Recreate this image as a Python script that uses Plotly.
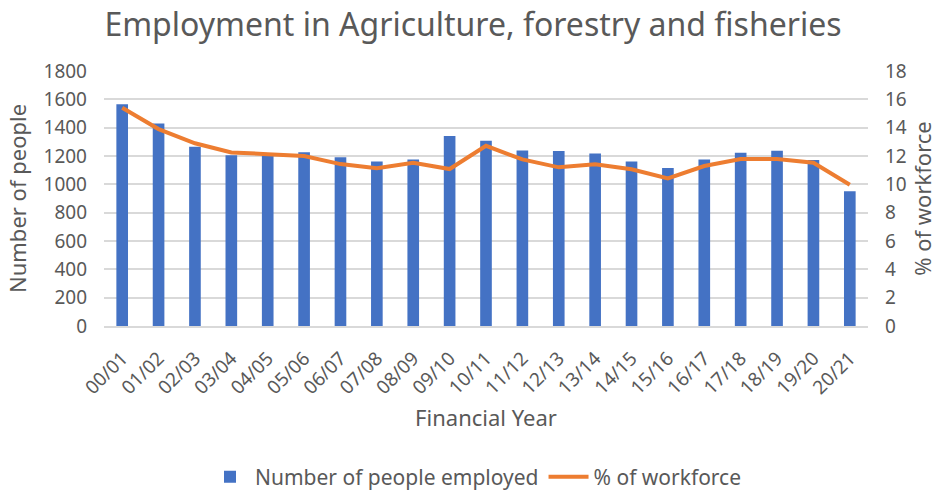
import plotly.graph_objects as go

years = ["00/01", "01/02", "02/03", "03/04", "04/05", "05/06", "06/07", "07/08",
         "08/09", "09/10", "10/11", "11/12", "12/13", "13/14", "14/15", "15/16",
         "16/17", "17/18", "18/19", "19/20", "20/21"]
employed = [1565, 1430, 1265, 1206, 1204, 1227, 1192, 1162, 1176, 1342, 1307,
            1239, 1235, 1218, 1162, 1115, 1176, 1223, 1237, 1171, 951]
pct_workforce = [15.4, 13.9, 12.9, 12.25, 12.13, 12.0, 11.43, 11.14, 11.52, 11.08,
                 12.72, 11.76, 11.2, 11.41, 11.06, 10.42, 11.29, 11.78, 11.78, 11.52, 9.97]

GREY = "#595959"
FONT = "Noto Sans"
TICK = dict(size=19, color=GREY, family=FONT)
AXTITLE = dict(size=22, color=GREY, family=FONT)

fig = go.Figure()
fig.add_trace(go.Bar(
    x=years, y=employed, name="Number of people employed",
    marker=dict(color="#4472C4", line=dict(width=0)),
))
fig.add_trace(go.Scatter(
    x=years, y=pct_workforce, name="% of workforce", yaxis="y2",
    mode="lines", line=dict(color="#ED7D31", width=4),
))

fig.update_layout(
    width=938, height=491,
    margin=dict(l=104, r=70, t=71, b=165),
    paper_bgcolor="white", plot_bgcolor="white",
    font=dict(family=FONT, color=GREY, size=17),
    bargap=0.68,
    title=dict(text="Employment in Agriculture, forestry and fisheries",
               x=473 / 938, xanchor="center", xref="container",
               y=1 - 25 / 491, yanchor="middle", yref="container",
               font=dict(size=32, color=GREY, family=FONT)),
    xaxis=dict(
        tickangle=-45, showgrid=False, showline=True, linecolor="#d9d9d9",
        linewidth=1.5, ticks="", tickfont=TICK, ticklabelstandoff=12,
        automargin=False,
        title=dict(text="Financial Year", font=AXTITLE, standoff=12),
    ),
    yaxis=dict(
        range=[0, 1800], dtick=200, showgrid=True, gridcolor="#d9d9d9", gridwidth=1.5,
        zeroline=False, ticks="", tickfont=TICK, ticklabelstandoff=16,
        automargin=False,
        title=dict(text="Number of people", font=AXTITLE, standoff=10),
    ),
    yaxis2=dict(
        range=[0, 18], dtick=2, overlaying="y", side="right", showgrid=False,
        zeroline=False, ticks="", tickfont=TICK, ticklabelstandoff=16,
        automargin=False,
        title=dict(text="% of workforce", font=AXTITLE, standoff=8),
    ),
    legend=dict(orientation="h", x=476 / 938, xanchor="center", xref="container",
                y=1 - 477 / 491, yanchor="middle", yref="container",
                font=dict(size=21, color=GREY, family=FONT), itemwidth=40,
                tracegroupgap=0),
)

fig.write_html("out.html")
